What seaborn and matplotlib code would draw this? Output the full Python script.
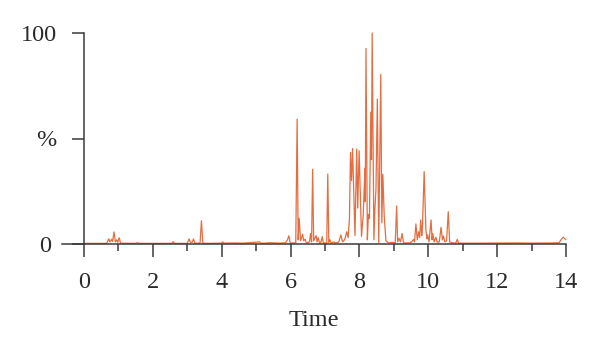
import matplotlib
matplotlib.use("Agg")
import matplotlib.pyplot as plt
import matplotlib.transforms as mtransforms
import seaborn as sns
import pandas as pd
from matplotlib.ticker import MultipleLocator

# Chromatogram trace (time in min, relative intensity in %)
time = [
    0.00, 0.66, 0.72, 0.75, 0.80, 0.83, 0.87, 0.91, 0.95, 0.98, 1.02, 1.06,
    1.50, 1.55, 1.60, 2.00, 2.55, 2.59, 2.63, 3.00, 3.05, 3.09, 3.14, 3.18,
    3.22, 3.37, 3.41, 3.45, 3.60, 4.00, 4.03, 4.07, 4.40, 4.60, 4.80, 5.10,
    5.15, 5.40, 5.70, 5.85, 5.91, 5.95, 5.99, 6.15, 6.19, 6.22, 6.25, 6.29,
    6.35, 6.38, 6.42, 6.46, 6.55, 6.58, 6.61, 6.64, 6.67, 6.74, 6.77, 6.80,
    6.84, 6.88, 6.92, 6.95, 7.05, 7.08, 7.11, 7.14, 7.18, 7.26, 7.30, 7.40,
    7.46, 7.51, 7.57, 7.63, 7.67, 7.71, 7.74, 7.77, 7.80, 7.84, 7.87, 7.92,
    7.95, 7.99, 8.06, 8.11, 8.16, 8.17, 8.19, 8.23, 8.26, 8.29, 8.33, 8.35,
    8.37, 8.42, 8.45, 8.48, 8.52, 8.56, 8.62, 8.65, 8.68, 8.72, 8.77, 8.85,
    8.95, 9.04, 9.08, 9.11, 9.15, 9.19, 9.24, 9.28, 9.45, 9.52, 9.57, 9.60,
    9.64, 9.68, 9.72, 9.75, 9.78, 9.81, 9.83, 9.88, 9.93, 9.96, 9.98, 10.02,
    10.08, 10.11, 10.13, 10.17, 10.22, 10.26, 10.32, 10.37, 10.41, 10.44, 10.48, 10.53,
    10.58, 10.62, 10.70, 10.80, 10.84, 10.88, 11.50, 12.50, 13.00, 13.60, 13.80, 13.88,
    13.92, 13.97, 14.00,
]
signal = [
    0.3, 0.3, 2.5, 1.0, 2.2, 1.2, 5.7, 1.0, 2.0, 0.8, 3.0, 0.4,
    0.3, 0.6, 0.3, 0.3, 0.3, 1.1, 0.3, 0.3, 2.4, 0.8, 0.8, 2.4,
    0.4, 0.4, 11.0, 0.4, 0.3, 0.4, 1.0, 0.4, 0.5, 0.4, 0.6, 1.0,
    0.3, 0.6, 0.4, 0.6, 2.0, 3.9, 0.5, 0.5, 59.2, 2.0, 12.2, 1.5,
    4.6, 1.5, 2.3, 0.5, 1.0, 5.0, 1.0, 35.4, 1.5, 4.0, 1.0, 3.0,
    0.5, 0.8, 3.5, 0.5, 0.5, 33.2, 0.8, 2.0, 0.5, 1.0, 0.4, 1.0,
    4.3, 1.0, 2.0, 5.8, 3.0, 12.0, 43.4, 30.0, 45.3, 22.0, 4.0, 45.0,
    17.0, 44.2, 3.6, 14.0, 36.0, 20.0, 92.7, 2.0, 14.0, 12.0, 62.5, 40.0,
    100.0, 2.0, 17.0, 26.0, 68.7, 0.5, 80.4, 10.0, 33.0, 13.0, 1.5, 0.5,
    0.8, 0.5, 18.0, 1.0, 2.7, 1.0, 5.0, 0.5, 0.5, 1.0, 2.2, 1.0,
    9.5, 2.0, 5.8, 3.0, 11.4, 4.0, 7.9, 34.3, 6.6, 2.5, 4.3, 1.0,
    11.4, 2.0, 5.0, 1.0, 3.2, 0.8, 1.0, 7.9, 2.0, 3.8, 1.0, 1.5,
    15.3, 1.0, 0.5, 0.5, 2.2, 0.4, 0.4, 0.5, 0.4, 0.5, 0.6, 2.6,
    3.2, 2.4, 2.2,
]
xticks = [0, 2, 4, 6, 8, 10, 12, 14]
yticks = [0, 50, 100]
ytick_labels = ["0", "%", "100"]

df = pd.DataFrame({"Time": time, "Intensity": signal})

sns.set_theme(style="white")
plt.rcParams["font.family"] = ["Liberation Serif", "DejaVu Serif"]
fsize = 17.5
plt.rcParams["font.size"] = fsize
plt.rcParams["xtick.labelsize"] = fsize
plt.rcParams["ytick.labelsize"] = fsize
plt.rcParams["axes.labelsize"] = fsize

axis_color = "#3a3a3a"
text_color = "#2a2a2a"
fig = plt.figure(figsize=(6, 3.49), dpi=100)
ax = fig.add_axes([62 / 600, 1 - 244 / 349, (566 - 62) / 600, (244 - 33) / 349])

sns.lineplot(data=df, x="Time", y="Intensity", ax=ax, color="#e56d40",
             linewidth=0.9, sort=False, clip_on=False, zorder=1)

ax.set_xlim(-0.64, 14)
ax.set_ylim(0, 100)
ax.spines["left"].set_position(("data", 0))
ax.spines["top"].set_visible(False)
ax.spines["right"].set_visible(False)
for side in ["left", "bottom"]:
    ax.spines[side].set_color(axis_color)
    ax.spines[side].set_linewidth(1.1)
    ax.spines[side].set_zorder(3)

ax.set_xticks(xticks)
ax.set_xticklabels([str(t) for t in xticks])
ax.xaxis.set_minor_locator(MultipleLocator(1))
ax.set_yticks(yticks)
ax.set_yticklabels(ytick_labels)

ax.tick_params(axis="x", which="major", direction="out", length=9.4, width=1.1,
               color=axis_color, pad=11, labelcolor=text_color, bottom=True)
ax.tick_params(axis="x", which="minor", direction="out", length=5, width=1.1,
               color=axis_color, bottom=True)
ax.tick_params(axis="y", direction="out", length=8.6, width=1.1,
               color=axis_color, pad=11, labelcolor=text_color, left=True)

# the "0" label sits next to the extended x-axis line, a little further left
zero_lbl = ax.get_yticklabels()[0]
zero_lbl.set_transform(zero_lbl.get_transform()
                       + mtransforms.ScaledTranslation(-6 / 100, 0, fig.dpi_scale_trans))

ax.set_xlabel("Time", color=text_color, labelpad=12)
ax.set_ylabel("")
ax.grid(False)

fig.savefig("out.png", dpi=100)
